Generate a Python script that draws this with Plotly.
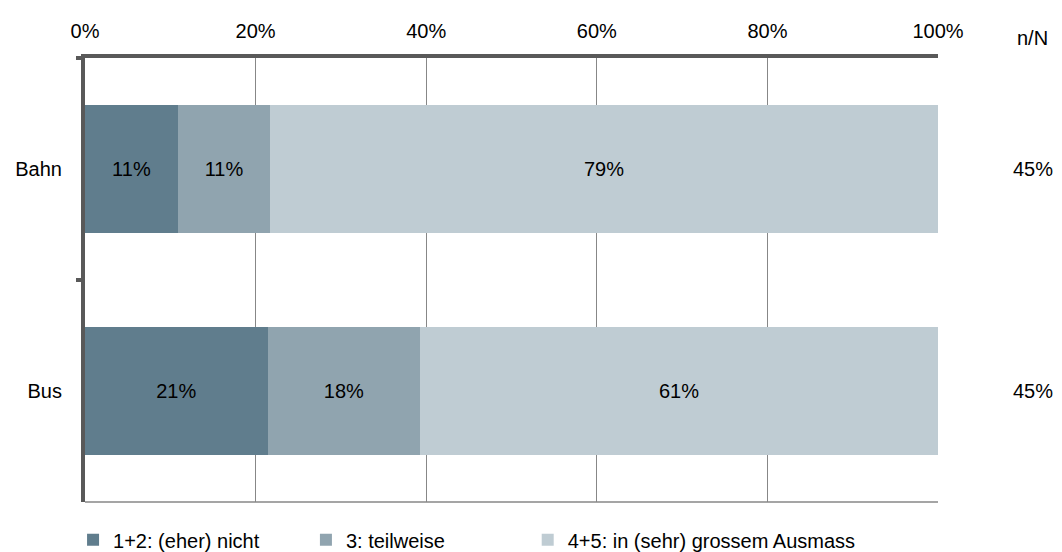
import plotly.graph_objects as go

categories = ["Bahn", "Bus"]
series_names = ["1+2: (eher) nicht", "3: teilweise", "4+5: in (sehr) grossem Ausmass"]
values = {
    "1+2: (eher) nicht": [10.9, 21.4],
    "3: teilweise": [10.8, 17.9],
    "4+5: in (sehr) grossem Ausmass": [78.3, 60.7],
}
labels = {
    "1+2: (eher) nicht": ["11%", "21%"],
    "3: teilweise": ["11%", "18%"],
    "4+5: in (sehr) grossem Ausmass": ["79%", "61%"],
}
colors = ["#607D8D", "#90A4AF", "#BFCCD3"]
n_of_N = ["45%", "45%"]
x_ticks = [0, 20, 40, 60, 80, 100]
x_ticklabels = ["0%", "20%", "40%", "60%", "80%", "100%"]

FONT = "Liberation Sans, Arial, sans-serif"
FS = 20

legend_ids = ["legend", "legend2", "legend3"]
legend_x = [-0.014, 0.259, 0.519]

fig = go.Figure()
for name, col, lid in zip(series_names, colors, legend_ids):
    fig.add_trace(go.Bar(
        y=categories, x=values[name], name=name, orientation="h",
        marker=dict(color=col, line=dict(width=0)),
        text=labels[name], textposition="inside", insidetextanchor="middle",
        textfont=dict(color="#000000", size=FS, family=FONT),
        width=0.577, hoverinfo="skip", legend=lid,
    ))

annotations = [dict(xref="paper", yref="paper", x=1.111, y=1.045, text="n/N",
                    showarrow=False, font=dict(size=FS, family=FONT, color="#000"),
                    xanchor="center", yanchor="middle")]
for cat, t in zip(categories, n_of_N):
    annotations.append(dict(xref="paper", yref="y", x=1.111, y=cat, text=t,
                            showarrow=False, font=dict(size=FS, family=FONT, color="#000"),
                            xanchor="center", yanchor="middle"))

legend_common = dict(orientation="h", y=-0.085, xanchor="left", yanchor="middle",
                     itemwidth=30, bgcolor="rgba(0,0,0,0)",
                     font=dict(size=FS, family=FONT, color="#000"))

fig.update_layout(
    barmode="stack",
    width=1046, height=544,
    margin=dict(l=77, r=116, t=50, b=50, autoexpand=False),
    paper_bgcolor="white", plot_bgcolor="white",
    font=dict(family=FONT, size=FS, color="#000"),
    xaxis=dict(
        side="top", range=[0, 100], tickvals=x_ticks, ticktext=x_ticklabels,
        showgrid=True, gridcolor="#878787", gridwidth=1,
        showline=True, linecolor="#595959", linewidth=4,
        ticks="", zeroline=False, fixedrange=True, ticklabelstandoff=8,
        tickfont=dict(size=FS, family=FONT, color="#000"),
    ),
    yaxis=dict(
        categoryorder="array", categoryarray=categories, autorange="reversed",
        showline=True, linecolor="#595959", linewidth=4,
        ticks="outside", tickson="boundaries", ticklen=5, tickwidth=4, tickcolor="#595959",
        showgrid=False, ticklabelstandoff=15,
        tickfont=dict(size=FS, family=FONT, color="#000"),
    ),
    shapes=[dict(type="line", xref="paper", yref="paper", x0=0, x1=1, y0=0, y1=0,
                 line=dict(color="#878787", width=1.5))],
    annotations=annotations,
    showlegend=True,
    legend=dict(x=legend_x[0], **legend_common),
    legend2=dict(x=legend_x[1], **legend_common),
    legend3=dict(x=legend_x[2], **legend_common),
)

fig.write_html("out.html")
